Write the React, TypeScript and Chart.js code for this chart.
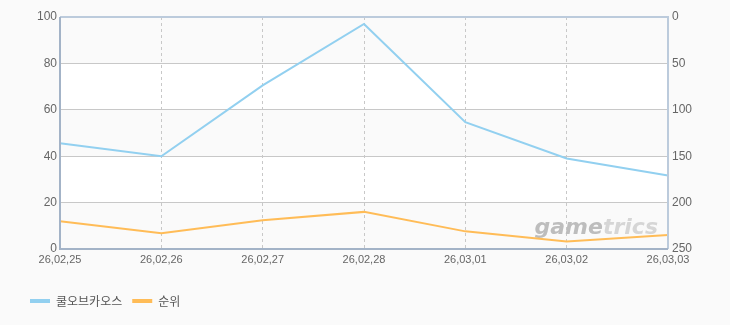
import React, { useEffect, useRef } from "react";
import { Chart, registerables } from "chart.js";

Chart.register(...registerables);

const categories = ["26,02,25", "26,02,26", "26,02,27", "26,02,28", "26,03,01", "26,03,02", "26,03,03"];
const seriesShare = [45.6, 40, 70.5, 97, 54.7, 39, 31.7];
const seriesRank = [220, 233, 219, 210, 231, 242, 235];
const seriesNames = ["쿨오브카오스", "순위"];
const leftTicks = [0, 20, 40, 60, 80, 100];
const rightTicks = [0, 50, 100, 150, 200, 250];

const bandsPlugin = {
  id: "bands",
  beforeDraw(chart: any) {
    const { ctx, chartArea } = chart;
    const y = chart.scales.y;
    ctx.save();
    ctx.fillStyle = "#ffffff";
    ctx.fillRect(chartArea.left, chartArea.top, chartArea.right - chartArea.left, chartArea.bottom - chartArea.top);
    for (let i = 0; i < leftTicks.length - 1; i++) {
      if (i % 2 === 0) {
        const y0 = y.getPixelForValue(leftTicks[i]);
        const y1 = y.getPixelForValue(leftTicks[i + 1]);
        ctx.fillStyle = "#fafafa";
        ctx.fillRect(chartArea.left, y1, chartArea.right - chartArea.left, y0 - y1);
      }
    }
    ctx.restore();
  },
  beforeDatasetsDraw(chart: any) {
    const { ctx, chartArea } = chart;
    ctx.save();
    ctx.font = "italic bold 22px 'DejaVu Sans', sans-serif";
    ctx.textBaseline = "alphabetic";
    const w1 = ctx.measureText("game").width;
    const w2 = ctx.measureText("trics").width;
    const x = chartArea.right - 10 - w1 - w2;
    const yy = chartArea.bottom - 15;
    ctx.fillStyle = "#bdbdbd";
    ctx.fillText("game", x, yy);
    ctx.fillStyle = "#d6d6d6";
    ctx.fillText("trics", x + w1, yy);
    ctx.restore();
  },
  afterDraw(chart: any) {
    const { ctx, chartArea } = chart;
    ctx.save();
    ctx.lineWidth = 2;
    ctx.strokeStyle = "#bccbdc";
    ctx.beginPath();
    ctx.moveTo(chartArea.left, chartArea.top);
    ctx.lineTo(chartArea.right, chartArea.top);
    ctx.lineTo(chartArea.right, chartArea.bottom);
    ctx.stroke();
    ctx.strokeStyle = "#a3b3c7";
    ctx.beginPath();
    ctx.moveTo(chartArea.left, chartArea.top);
    ctx.lineTo(chartArea.left, chartArea.bottom);
    ctx.lineTo(chartArea.right, chartArea.bottom);
    ctx.stroke();
    ctx.restore();
  },
};

export default function App() {
  const ref = useRef<HTMLCanvasElement>(null);
  useEffect(() => {
    if (!ref.current) return;
    const chart = new Chart(ref.current, {
      type: "line",
      data: {
        labels: categories,
        datasets: [
          {
            label: seriesNames[0],
            data: seriesShare,
            borderColor: "#92d0f0",
            backgroundColor: "#92d0f0",
            borderWidth: 2,
            pointRadius: 0,
            tension: 0,
            yAxisID: "y",
          },
          {
            label: seriesNames[1],
            data: seriesRank,
            borderColor: "#ffbc57",
            backgroundColor: "#ffbc57",
            borderWidth: 2,
            pointRadius: 0,
            tension: 0,
            yAxisID: "y1",
          },
        ],
      },
      options: {
        animation: false,
        responsive: false,
        maintainAspectRatio: false,
        layout: { padding: { left: 20, top: 17, right: 0, bottom: 8 } },
        plugins: {
          tooltip: { enabled: false },
          legend: {
            position: "bottom",
            align: "start",
            labels: {
              boxWidth: 20,
              boxHeight: 4,
              padding: 10,
              color: "#555",
              font: { family: "'Noto Sans CJK KR', sans-serif", size: 12 },
              generateLabels: (c: any) =>
                c.data.datasets.map((d: any, i: number) => ({
                  text: d.label,
                  fillStyle: d.borderColor,
                  strokeStyle: d.borderColor,
                  lineWidth: 0,
                  fontColor: "#555",
                  datasetIndex: i,
                  hidden: false,
                })),
            },
          },
        },
        scales: {
          x: {
            offset: false,
            grid: { color: "#c8c8c8", drawTicks: false },
            border: { display: false, dash: [3, 3] },
            ticks: {
              color: "#666",
              padding: 4,
              maxRotation: 0,
              autoSkip: false,
              font: { family: "'Liberation Sans', sans-serif", size: 11 },
            },
            afterFit: (s: any) => {
              s.height = 36;
            },
          },
          y: {
            position: "left",
            min: 0,
            max: 100,
            afterBuildTicks: (s: any) => {
              s.ticks = leftTicks.map((v) => ({ value: v }));
            },
            grid: { color: "#c8c8c8", drawTicks: false },
            border: { display: false },
            ticks: {
              color: "#666",
              padding: 3,
              font: { family: "'Liberation Sans', sans-serif", size: 12 },
            },
            afterFit: (s: any) => {
              s.width = 40;
            },
          },
          y1: {
            position: "right",
            reverse: true,
            min: 0,
            max: 250,
            afterBuildTicks: (s: any) => {
              s.ticks = rightTicks.map((v) => ({ value: v }));
            },
            grid: { display: false, drawTicks: false },
            border: { display: false },
            ticks: {
              color: "#666",
              padding: 4,
              font: { family: "'Liberation Sans', sans-serif", size: 12 },
            },
            afterFit: (s: any) => {
              s.width = 62;
            },
          },
        },
      },
      plugins: [bandsPlugin],
    });
    return () => chart.destroy();
  }, []);
  return (
    <div style={{ position: "fixed", left: 0, top: 0, width: 730, height: 325, background: "#fafafa" }}>
      <canvas ref={ref} width={730} height={325} style={{ display: "block" }} />
    </div>
  );
}
